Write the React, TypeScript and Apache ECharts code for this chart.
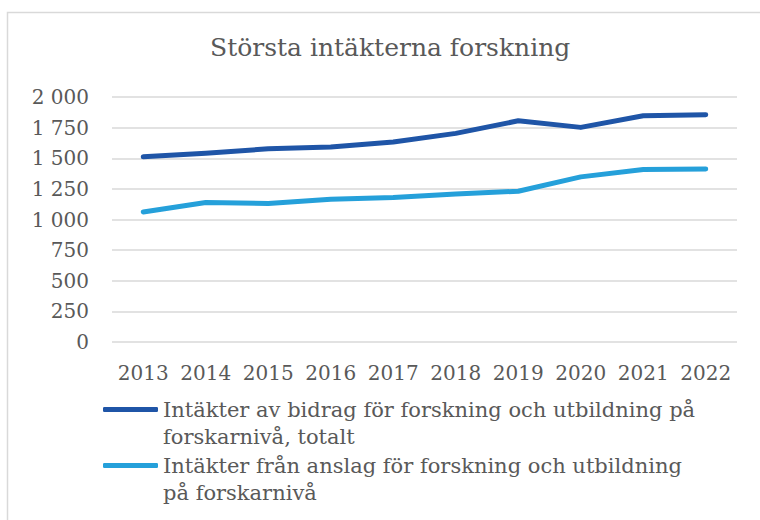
import React, { useEffect, useRef } from "react";
import * as echarts from "echarts";

const years = ["2013", "2014", "2015", "2016", "2017", "2018", "2019", "2020", "2021", "2022"];
const totalValues = [1512, 1540, 1577, 1591, 1632, 1703, 1806, 1752, 1847, 1855];
const anslagValues = [1062, 1139, 1131, 1166, 1180, 1209, 1231, 1348, 1408, 1413];
const seriesNames = [
  "Intäkter av bidrag för forskning och utbildning på forskarnivå, totalt",
  "Intäkter från anslag för forskning och utbildning på forskarnivå",
];
const legendLines: Record<string, string> = {
  [seriesNames[0]]: "Intäkter av bidrag för forskning och utbildning på\nforskarnivå, totalt",
  [seriesNames[1]]: "Intäkter från anslag för forskning och utbildning\npå forskarnivå",
};
const titleText = "Största intäkterna forskning";

const FONT = "DejaVu Serif";
const GRAY = "#595959";
const DARK = "#1f55a7";
const LIGHT = "#25a0da";

export default function App() {
  const ref = useRef<HTMLDivElement>(null);
  useEffect(() => {
    if (!ref.current) return;
    const chart = echarts.init(ref.current, null, { renderer: "svg" });
    const legendBase = {
      orient: "vertical" as const,
      left: 103,
      padding: 0,
      itemWidth: 55,
      itemHeight: 5,
      itemGap: 5,
      icon: "roundRect",
      formatter: (n: string) => " \n" + (legendLines[n] || n),
      textStyle: {
        fontFamily: FONT,
        fontSize: 21,
        color: GRAY,
        lineHeight: 27,
      },
      selectedMode: false,
    };
    chart.setOption({
      animation: false,
      backgroundColor: "#ffffff",
      textStyle: { fontFamily: FONT },
      title: {
        text: titleText,
        left: 205,
        top: 30,
        textStyle: { fontFamily: FONT, fontSize: 25, fontWeight: "normal", color: GRAY },
      },
      graphic: [
        {
          type: "rect",
          shape: { x: 7.5, y: 12.5, width: 760, height: 520 },
          style: { fill: "none", stroke: "#d9d9d9", lineWidth: 1.5 },
          silent: true,
        },
      ],
      legend: [
        { ...legendBase, top: 369, data: [seriesNames[0]] },
        { ...legendBase, top: 425, data: [seriesNames[1]] },
      ],
      grid: { left: 112, right: 23, top: 97, bottom: 178, containLabel: false },
      xAxis: {
        type: "category",
        data: years,
        boundaryGap: true,
        axisLine: { show: false },
        axisTick: { show: false },
        axisLabel: { color: GRAY, fontFamily: FONT, fontSize: 20, margin: 21, interval: 0 },
      },
      yAxis: {
        type: "value",
        min: 0,
        max: 2000,
        interval: 250,
        axisLine: { show: false },
        axisTick: { show: false },
        axisLabel: {
          color: GRAY,
          fontFamily: FONT,
          fontSize: 20,
          margin: 23,
          formatter: (v: number) => (v >= 1000 ? `${Math.floor(v / 1000)} ${String(v % 1000).padStart(3, "0")}` : String(v)),
        },
        splitLine: { lineStyle: { color: "#d9d9d9", width: 1.5 } },
      },
      series: [
        {
          name: seriesNames[0],
          type: "line",
          data: totalValues,
          symbol: "none",
          color: DARK,
          lineStyle: { width: 5, color: DARK, cap: "round", join: "round" },
        },
        {
          name: seriesNames[1],
          type: "line",
          data: anslagValues,
          symbol: "none",
          color: LIGHT,
          lineStyle: { width: 5, color: LIGHT, cap: "round", join: "round" },
        },
      ],
    });
    return () => chart.dispose();
  }, []);
  return (
    <div
      ref={ref}
      style={{ position: "fixed", left: 0, top: 0, width: 760, height: 520 }}
    />
  );
}
